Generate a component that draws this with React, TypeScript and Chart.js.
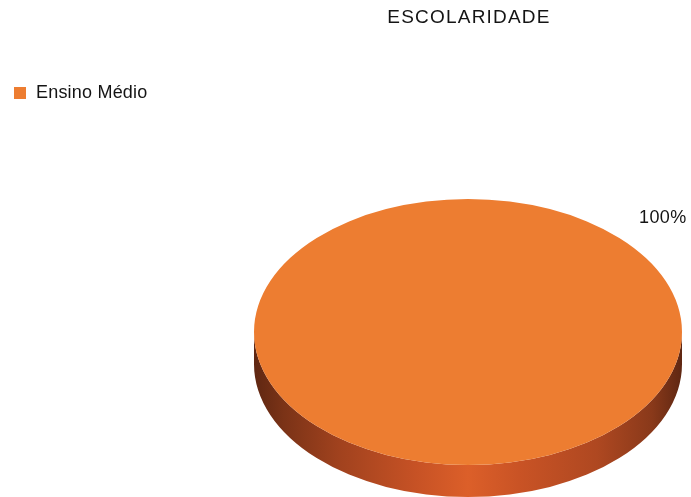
import React, { useEffect, useRef } from "react";
import { Chart, registerables } from "chart.js";

Chart.register(...registerables);

const categories: string[] = ["Ensino Médio"];
const values: number[] = [100];
const sliceColors: string[] = ["#ED7D31"];
const chartTitle = "ESCOLARIDADE";

function hexToRgb(hex: string): [number, number, number] {
  const h = hex.replace("#", "");
  return [parseInt(h.slice(0, 2), 16), parseInt(h.slice(2, 4), 16), parseInt(h.slice(4, 6), 16)];
}
function shade(hex: string, f: number, redBias = 1): string {
  const [r, g, b] = hexToRgb(hex);
  return `rgb(${Math.round(r * f)},${Math.round(g * f * 0.78 * redBias)},${Math.round(b * f * 0.9)})`;
}

export default function App() {
  const ref = useRef<HTMLCanvasElement>(null);

  useEffect(() => {
    const canvas = ref.current;
    if (!canvas) return;
    const TILT = 133 / 214;
    const DEPTH = 32;
    const Y_SHIFT = 88;
    const FONT = "'Liberation Sans', Arial, sans-serif";

    const pie3d = {
      id: "pie3d",
      beforeDatasetsDraw(chart: any) {
        const ctx: CanvasRenderingContext2D = chart.ctx;
        const arcs = chart.getDatasetMeta(0).data as any[];
        if (!arcs.length) return;
        const a0 = arcs[0];
        const cx = a0.x;
        const cy = a0.y + Y_SHIFT;
        const rx = a0.outerRadius;
        const ry = a0.outerRadius * TILT;
        arcs.forEach((arc: any, i: number) => {
          const base = sliceColors[i % sliceColors.length];
          for (let k = -2; k <= 2; k++) {
            const off = k * 2 * Math.PI;
            const lo = Math.max(arc.startAngle, off);
            const hi = Math.min(arc.endAngle, off + Math.PI);
            if (hi <= lo) continue;
            const s = lo - off;
            const e = hi - off;
            ctx.save();
            ctx.beginPath();
            ctx.ellipse(cx, cy, rx, ry, 0, s, e, false);
            ctx.lineTo(cx + rx * Math.cos(e), cy + ry * Math.sin(e) + DEPTH);
            ctx.ellipse(cx, cy + DEPTH, rx, ry, 0, e, s, true);
            ctx.closePath();
            const g = ctx.createLinearGradient(cx - rx, 0, cx + rx, 0);
            g.addColorStop(0, shade(base, 0.4));
            g.addColorStop(0.07, shade(base, 0.52));
            g.addColorStop(0.2, shade(base, 0.68));
            g.addColorStop(0.38, shade(base, 0.84));
            g.addColorStop(0.5, shade(base, 0.93, 1.05));
            g.addColorStop(0.62, shade(base, 0.85));
            g.addColorStop(0.8, shade(base, 0.74));
            g.addColorStop(0.93, shade(base, 0.58));
            g.addColorStop(1, shade(base, 0.4));
            ctx.fillStyle = g;
            ctx.fill();
            ctx.restore();
          }
        });
        ctx.save();
        ctx.translate(cx, cy);
        ctx.scale(1, TILT);
        ctx.translate(-a0.x, -a0.y);
      },
      afterDatasetsDraw(chart: any) {
        const ctx: CanvasRenderingContext2D = chart.ctx;
        const arcs = chart.getDatasetMeta(0).data as any[];
        if (!arcs.length) return;
        ctx.restore();
        const a0 = arcs[0];
        const cx = a0.x;
        const cy = a0.y + Y_SHIFT;
        const rx = a0.outerRadius;
        const ry = a0.outerRadius * TILT;
        const total = values.reduce((p, v) => p + v, 0);
        ctx.save();
        ctx.fillStyle = "#141414";
        ctx.font = `18px ${FONT}`;
        (ctx as any).letterSpacing = "0.4px";
        ctx.textAlign = "center";
        ctx.textBaseline = "middle";
        arcs.forEach((arc: any, i: number) => {
          const pct = Math.round((values[i] / total) * 100) + "%";
          let ang = (arc.startAngle + arc.endAngle) / 2;
          if (arcs.length === 1) ang = -0.755;
          const f = 1.25;
          ctx.fillText(pct, cx + f * rx * Math.cos(ang), cy + f * ry * Math.sin(ang));
        });
        ctx.restore();
      },
      afterDraw(chart: any) {
        const ctx: CanvasRenderingContext2D = chart.ctx;
        ctx.save();
        ctx.fillStyle = "#141414";
        ctx.font = `19px ${FONT}`;
        (ctx as any).letterSpacing = "1.2px";
        ctx.textAlign = "center";
        ctx.textBaseline = "middle";
        ctx.fillText(chartTitle, 469, 18);
        (ctx as any).letterSpacing = "0.2px";
        ctx.font = `18px ${FONT}`;
        ctx.textAlign = "left";
        categories.forEach((c, i) => {
          const y = 93 + i * 24;
          ctx.fillStyle = sliceColors[i % sliceColors.length];
          ctx.fillRect(14, y - 6, 12, 12);
          ctx.fillStyle = "#141414";
          ctx.fillText(c, 36, y);
        });
        ctx.restore();
      },
    };

    const chart = new Chart(canvas, {
      type: "pie",
      data: {
        labels: categories,
        datasets: [
          {
            data: values,
            backgroundColor: sliceColors,
            borderWidth: 0,
            hoverOffset: 0,
          },
        ],
      },
      options: {
        responsive: false,
        animation: false,
        events: [],
        layout: { padding: { left: 254, right: 9, top: 30, bottom: 39 } },
        plugins: {
          legend: { display: false },
          title: { display: false },
          tooltip: { enabled: false },
        },
      },
      plugins: [pie3d],
    });
    return () => chart.destroy();
  }, []);

  return (
    <div style={{ position: "absolute", left: 0, top: 0, width: 691, height: 497, background: "#fff" }}>
      <canvas ref={ref} width={691} height={497} style={{ display: "block" }} />
    </div>
  );
}
